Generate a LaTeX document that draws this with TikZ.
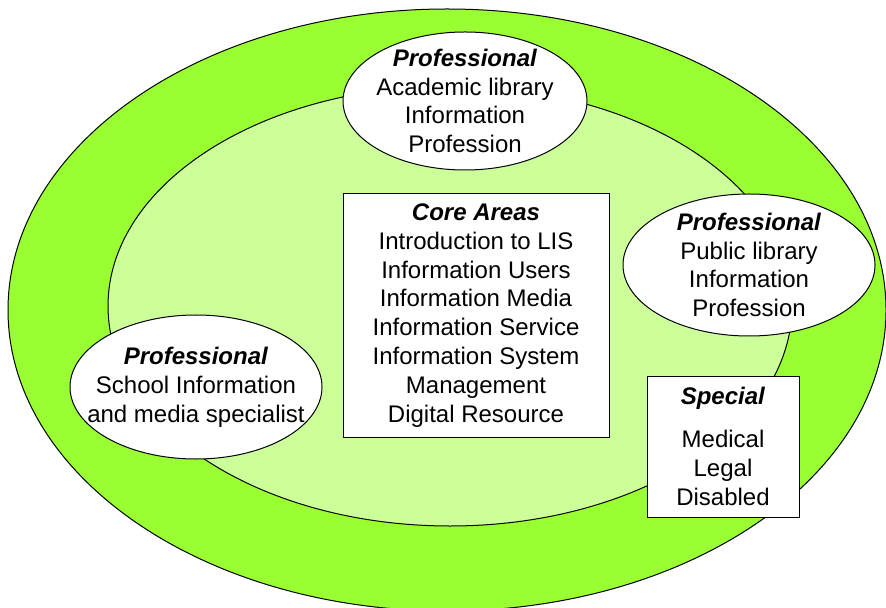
\documentclass[tikz,border=0pt]{standalone}
\usepackage{fontspec}
\setmainfont{Liberation Sans}
\usepackage{xcolor}
\definecolor{outergreen}{HTML}{99FF33}
\definecolor{innergreen}{HTML}{CCFF99}
\usetikzlibrary{shapes.geometric}

\begin{document}
\begin{tikzpicture}[x=0.5pt, y=-0.5pt, line width=0.5pt,
  every node/.style={font=\fontsize{12}{14.4}\selectfont, align=center, inner sep=0pt},
  area/.style={draw, ellipse, fill=white},
  listbox/.style={draw, rectangle, fill=white}]
  \useasboundingbox (0,0) rectangle (886,608);
  % Nested fields
  \draw[fill=outergreen] (447,310) ellipse [x radius=439, y radius=301];
  \draw[fill=innergreen] (450,306) ellipse [x radius=342, y radius=220];
  % Professional areas
  \node[area, minimum width=122pt, minimum height=69pt] (academic) at (465,101) {};
  \node at (academic.center) {\textbf{\textit{Professional}}\\Academic library\\Information\\Profession};
  \node[area, minimum width=126pt, minimum height=71pt] (public) at (749,265) {};
  \node at (public.center) {\textbf{\textit{Professional}}\\Public library\\Information\\Profession};
  \node[area, minimum width=126pt, minimum height=72pt] (school) at (196,387) {};
  \node at (school.center) {\textbf{\textit{Professional}}\\School Information\\and media specialist};
  % Core and special boxes
  \node[listbox, minimum width=133pt, minimum height=121.5pt] (core) at (476,315.5) {\textbf{\textit{Core Areas}}\\Introduction to LIS\\Information Users\\Information Media\\Information Service\\Information System\\Management\\Digital Resource};
  \node[listbox, minimum width=76pt, minimum height=70.5pt] (special) at (723,446.5) {\textbf{\textit{Special}}\\[7pt]Medical\\Legal\\Disabled};
\end{tikzpicture}
\end{document}
